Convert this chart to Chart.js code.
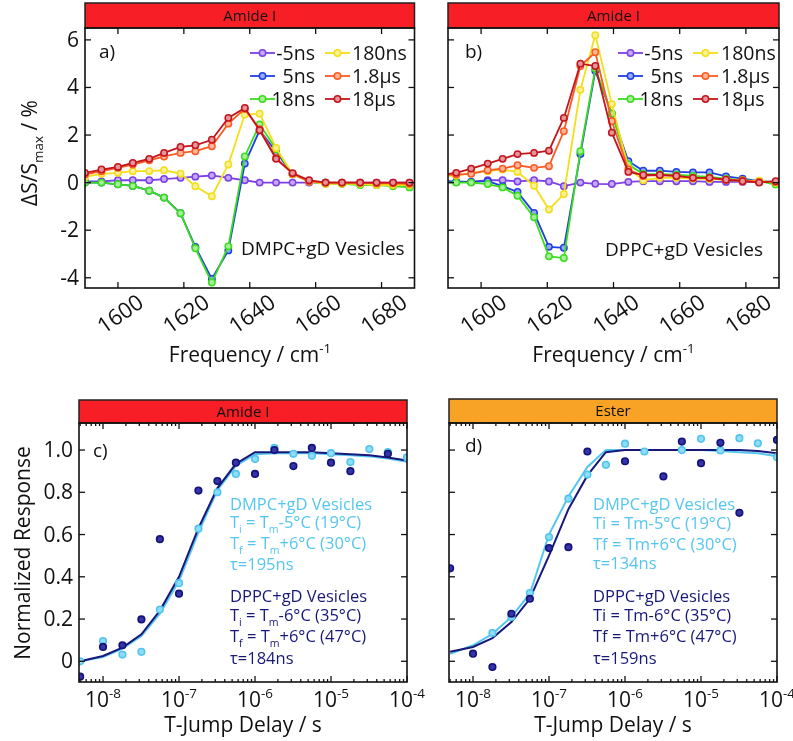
<!DOCTYPE html>
<html><head><meta charset="utf-8">
<script src="https://cdn.jsdelivr.net/npm/chart.js@4.4.0/dist/chart.umd.min.js"></script>
<style>
html,body{margin:0;padding:0;background:#fff;}
#wrap{position:relative;width:793px;height:741px;overflow:hidden;background:#fff;}
canvas{position:absolute;}
</style></head><body>
<div id="wrap">
<canvas id="ca" width="420" height="372" style="left:0px;top:0px"></canvas>
<canvas id="cb" width="373" height="372" style="left:420px;top:0px"></canvas>
<canvas id="cc" width="440" height="371" style="left:0px;top:370px"></canvas>
<canvas id="cd" width="373" height="371" style="left:420px;top:370px"></canvas>
</div>
<script>
// ---------------- DATA ----------------
const seriesLabels = ['-5ns', ' 5ns', '18ns', '180ns', '1.8µs', '18µs'];

// panel a (DMPC+gD vesicles), frequency in cm-1
const freqA = [1590,1595,1600,1604.5,1609.5,1614,1619,1623.5,1628.5,1633.5,1638.5,1643,1648,1653,1658,1663,1668,1673.5,1678.5,1683.5,1688.5];
const a_m5ns  = [0.05,0.05,0.1,0.1,0.1,0.15,0.2,0.25,0.3,0.2,0.1,0.0,0.0,0.0,0.0,0.0,0.0,0.0,0.0,0.0,0.0];
const a_5ns   = [0.0,0.0,-0.07,-0.14,-0.34,-0.63,-1.29,-2.7,-4.05,-2.85,0.8,2.2,1.3,0.35,0.05,0.0,-0.05,-0.05,-0.1,-0.1,-0.15];
const a_18ns  = [0.0,0.0,-0.07,-0.14,-0.34,-0.63,-1.29,-2.76,-4.2,-2.68,1.1,2.45,1.4,0.35,0.05,-0.05,-0.05,-0.1,-0.1,-0.15,-0.2];
const a_180ns = [0.24,0.37,0.41,0.48,0.48,0.52,0.38,-0.15,-0.57,0.76,2.86,2.9,1.46,0.35,0.05,-0.05,-0.05,-0.05,-0.1,-0.1,-0.1];
const a_1_8us = [0.34,0.48,0.62,0.76,0.94,1.1,1.25,1.32,1.53,2.48,3.1,2.25,1.04,0.37,0.05,0.0,0.0,0.0,-0.03,-0.03,-0.05];
const a_18us  = [0.41,0.55,0.66,0.83,1.0,1.25,1.5,1.57,1.8,2.72,3.14,2.2,1.0,0.4,0.1,0.0,0.0,0.0,0.0,0.0,0.0];

// panel b (DPPC+gD vesicles)
const freqB = [1588,1592.5,1597,1602,1606.5,1611,1616,1620.5,1625,1630,1634.5,1639.5,1644.5,1649,1654,1659,1664,1669,1674,1679,1684,1689];
const b_m5ns  = [0.05,0.05,0.03,0.1,0.1,0.05,0.1,0.05,-0.15,0.0,-0.05,-0.06,0.03,0.06,0.06,0.06,0.06,0.03,0.03,0.03,0.03,0.03];
const b_5ns   = [0.06,0.03,0.03,0.06,-0.15,-0.39,-1.27,-2.7,-2.74,1.2,4.7,2.9,0.9,0.5,0.5,0.45,0.43,0.43,0.26,0.17,0.06,0.03];
const b_18ns  = [0.0,0.0,0.0,-0.06,-0.2,-0.55,-1.46,-3.1,-3.17,1.32,4.8,2.9,0.76,0.36,0.36,0.33,0.28,0.24,0.17,0.1,0.06,-0.08];
const b_180ns = [0.27,0.3,0.41,0.48,0.55,0.45,-0.13,-1.13,-0.48,3.9,6.2,3.3,0.6,0.1,0.2,0.2,0.17,0.15,0.12,0.06,0.08,0.0];
const b_1_8us = [0.32,0.34,0.37,0.52,0.59,0.73,0.62,0.69,2.16,4.9,5.48,2.58,0.55,0.28,0.32,0.28,0.2,0.2,0.12,0.1,0.03,0.03];
const b_18us  = [0.34,0.41,0.59,0.8,1.0,1.2,1.25,1.34,2.72,5.0,4.9,2.1,0.45,0.32,0.32,0.28,0.2,0.2,0.12,0.06,0.0,0.06];

// panels c, d: T-jump delay (s)
const delays = [5e-9,1e-8,1.8e-8,3.2e-8,5.6e-8,1e-7,1.8e-7,3.2e-7,5.6e-7,1e-6,1.8e-6,3.2e-6,5.6e-6,1e-5,1.8e-5,3.2e-5,5.6e-5,1e-4];
// c) Amide I
const c_DMPC    = [0.0,0.096,0.032,0.045,0.245,0.37,0.628,0.80,0.887,0.958,1.01,0.982,0.973,0.985,0.943,1.005,0.99,0.965];
const c_DPPC    = [-0.073,0.068,0.076,0.198,0.578,0.32,0.808,0.853,0.94,0.887,1.0,0.924,1.01,0.94,0.9,null,0.982,null];
const c_fitDMPC = [0.0,0.02,0.06,0.12,0.225,0.38,0.61,0.81,0.925,0.98,0.985,0.985,0.985,0.98,0.975,0.97,0.96,0.945];
const c_fitDPPC = [0.0,0.025,0.065,0.128,0.24,0.40,0.63,0.82,0.935,0.99,0.99,0.99,0.99,0.985,0.98,0.975,0.965,0.95];
// d) Ester
const d_DMPC    = [null,null,0.134,0.21,0.323,0.588,0.77,0.884,0.93,1.03,0.993,null,1.0,1.053,0.998,1.056,1.032,0.966];
const d_DPPC    = [0.44,0.036,-0.027,0.225,0.296,0.536,0.54,0.993,null,0.947,null,0.875,1.04,0.938,1.034,0.703,null,1.048];
const d_fitDMPC = [0.035,0.076,0.13,0.21,0.32,0.6,0.78,0.92,1.0,1.0,1.0,1.0,1.0,1.0,0.995,0.99,0.985,0.97];
const d_fitDPPC = [0.045,0.068,0.11,0.186,0.296,0.5,0.72,0.88,0.99,1.0,1.0,1.0,1.0,1.0,1.0,1.0,0.995,0.985];

// ticks
const yTicksAB = [-4,-2,0,2,4,6];
const yTickLabelsAB = ['-4','-2','0','2','4','6'];
const xTicksAB = [1600,1620,1640,1660,1680];
const xTickLabelsAB = ['1600','1620','1640','1660','1680'];
const yTicksCD = [0,0.2,0.4,0.6,0.8,1.0];
const yTickLabelsCD = ['0','0.2','0.4','0.6','0.8','1.0'];
const xTicksCD = [1e-8,1e-7,1e-6,1e-5,1e-4];
const xTickExpCD = ['-8','-7','-6','-5','-4'];

// ---------------- STYLE ----------------
const FONT = '"Open Sans", "Noto Sans", "DejaVu Sans", sans-serif';
const COLS = ['#7d3fe6', '#1f3fe2', '#3cdc1e', '#f3de18', '#fb5a22', '#c4141c'];
const LBLUE = '#55c6ef', NAVY = '#18187a';
const HEAD_RED = '#f71e26', HEAD_ORANGE = '#f8a326';

function tint(hex, f){const n=parseInt(hex.slice(1),16);let r=n>>16,g=(n>>8)&255,b=n&255;
  r=Math.round(r+(255-r)*f);g=Math.round(g+(255-g)*f);b=Math.round(b+(255-b)*f);return `rgb(${r},${g},${b})`;}
const pts = (xs, ys) => xs.map((x,i)=>({x:x, y:ys[i]})).filter(p=>p.y!==null && p.y!==undefined);

function rich(ctx, x, y, parts, size, align, color){
  const fs = m => m ? size*0.64 : size;
  let w = 0;
  parts.forEach(p=>{ctx.font = fs(p[1])+'px '+FONT; w += ctx.measureText(p[0]).width;});
  let cx = align==='center' ? x-w/2 : (align==='right' ? x-w : x);
  ctx.textAlign='left'; ctx.textBaseline='alphabetic'; ctx.fillStyle=color;
  parts.forEach(p=>{ctx.font = fs(p[1])+'px '+FONT;
    const dy = p[1]===1 ? size*0.28 : (p[1]===2 ? -size*0.42 : 0);
    ctx.fillText(p[0], cx, y+dy); cx += ctx.measureText(p[0]).width;});
}
function seg(ctx,x1,y1,x2,y2){ctx.beginPath();ctx.moveTo(x1,y1);ctx.lineTo(x2,y2);ctx.stroke();}

function specDS(label, xs, ys, color, order){
  return {label, data:pts(xs,ys), borderColor:color, backgroundColor:color, borderWidth:1.8,
    pointRadius:3.2, pointBorderWidth:1.5, pointBackgroundColor:tint(color,0.55), pointBorderColor:color,
    tension:0, order};
}
function dotDS(label, ys, color, fill, order){
  return {label, data:pts(delays, ys), showLine:false, borderColor:color, backgroundColor:fill,
    pointRadius:3.3, pointBorderWidth:1.6, pointBackgroundColor:fill, pointBorderColor:color, order};
}
function fitDS(label, ys, color, order){
  return {label, data:pts(delays, ys), borderColor:color, borderWidth:2, pointRadius:0, tension:0, order};
}

function deco(cfg){
  return {id:'deco', afterDraw(chart){
    const ctx=chart.ctx, ca=chart.chartArea, sx=chart.scales.x, sy=chart.scales.y;
    ctx.save();
    // header bar
    ctx.fillStyle=cfg.headColor;
    ctx.fillRect(ca.left, cfg.headTop, ca.right-ca.left, ca.top-cfg.headTop);
    ctx.strokeStyle='#222'; ctx.lineWidth=1.5;
    ctx.strokeRect(ca.left, cfg.headTop, ca.right-ca.left, ca.top-cfg.headTop);
    ctx.fillStyle='#111'; ctx.font='15px '+FONT; ctx.textAlign='center'; ctx.textBaseline='middle';
    ctx.fillText(cfg.headText, (ca.left+ca.right)/2, (cfg.headTop+ca.top)/2+1);
    // frame
    ctx.strokeStyle='#111'; ctx.lineWidth=1.6;
    ctx.strokeRect(ca.left, ca.top, ca.right-ca.left, ca.bottom-ca.top);
    // y ticks
    ctx.lineWidth=1.3;
    cfg.yTicks.forEach(v=>{const py=sy.getPixelForValue(v); seg(ctx,ca.left,py,ca.left+6,py); seg(ctx,ca.right,py,ca.right-6,py);});
    // x ticks
    cfg.xTicks.forEach(v=>{const px=sx.getPixelForValue(v); seg(ctx,px,ca.bottom,px,ca.bottom-6); seg(ctx,px,ca.top,px,ca.top+6);});
    if (cfg.minor) {
      for (let e=-9; e<=-5; e++) for (let m=2; m<=9; m++){ const v=m*Math.pow(10,e);
        if (v<sx.min || v>sx.max) continue; const px=sx.getPixelForValue(v);
        seg(ctx,px,ca.bottom,px,ca.bottom-3); seg(ctx,px,ca.top,px,ca.top+3);}
    }
    // y tick labels
    if (cfg.yLabels) {
      ctx.fillStyle='#111'; ctx.font='21px '+FONT; ctx.textAlign='right'; ctx.textBaseline='middle';
      cfg.yTicks.forEach((v,i)=>ctx.fillText(cfg.yLabels[i], ca.left-6, sy.getPixelForValue(v)+1));
    }
    // x tick labels
    if (cfg.xRot) {
      ctx.fillStyle='#111'; ctx.font='22px '+FONT; ctx.textAlign='center'; ctx.textBaseline='middle';
      cfg.xTicks.forEach((v,i)=>{const px=sx.getPixelForValue(v); ctx.save(); ctx.translate(px+3, ca.bottom+27);
        ctx.rotate(-35*Math.PI/180); ctx.fillText(cfg.xLabels[i],0,0); ctx.restore();});
    }
    if (cfg.xExp) {
      cfg.xTicks.forEach((v,i)=>{const px=sx.getPixelForValue(v);
        rich(ctx, px, ca.bottom+25, [['10',0],[cfg.xExp[i],2]], 21, 'center', '#111');});
    }
    cfg.extra(ctx, chart);
    ctx.restore();
  }};
}

function makeChart(id, datasets, xScale, yScale, pad, yw, xh, plugin){
  return new Chart(document.getElementById(id), {
    type:'line', data:{datasets},
    options:{responsive:false, animation:false, events:[],
      layout:{padding:pad},
      plugins:{legend:{display:false}, tooltip:{enabled:false}, title:{display:false}},
      scales:{
        x:Object.assign({grid:{display:false}, border:{display:false}, ticks:{display:false},
          afterFit(s){s.height=xh; s.paddingLeft=0; s.paddingRight=0;}}, xScale),
        y:Object.assign({grid:{display:false}, border:{display:false}, ticks:{display:false},
          afterFit(s){s.width=yw; s.paddingTop=0; s.paddingBottom=0;}}, yScale)
      }},
    plugins:[plugin]
  });
}

function legend(ctx, c1, c2, rows){
  const items = [[0,0],[1,0],[2,0],[3,1],[4,1],[5,1]];
  items.forEach(([k,col])=>{
    const c = col===0 ? c1 : c2; const y = rows[k%3]; const color = COLS[k];
    ctx.strokeStyle=color; ctx.lineWidth=1.8; seg(ctx,c[0],y,c[1],y);
    ctx.beginPath(); ctx.arc((c[0]+c[1])/2, y, 3.2, 0, Math.PI*2); ctx.fillStyle=tint(color,0.55); ctx.fill();
    ctx.lineWidth=1.5; ctx.stroke();
    ctx.fillStyle='#111'; ctx.font='19.5px '+FONT; ctx.textBaseline='middle';
    ctx.textAlign = col===0 ? 'right' : 'left';
    ctx.fillText(seriesLabels[k].trim(), c[2], y+1);
  });
}

const specSets = (xs, arrs) => arrs.map((ys,k)=>specDS(seriesLabels[k], xs, ys, COLS[k], 6-k));
const xLin = {type:'linear', min:1590, max:1690};
const yAB = {type:'linear', min:-4.43, max:6.5};
const xLog = {type:'logarithmic', min:4.83e-9, max:1e-4};
const yCD = {type:'linear', min:-0.098, max:1.128};

// ---- a ----
makeChart('ca', specSets(freqA,[a_m5ns,a_5ns,a_18ns,a_180ns,a_1_8us,a_18us]), xLin, yAB,
  {top:28,right:4,left:0,bottom:0}, 85, 84,
  deco({headTop:3, headColor:HEAD_RED, headText:'Amide I', yTicks:yTicksAB, yLabels:yTickLabelsAB,
    xTicks:xTicksAB, xLabels:xTickLabelsAB, xRot:true,
    extra(ctx, chart){
      legend(ctx, [250,275,315], [325,350,352], [53,76,99]);
      ctx.fillStyle='#111'; ctx.font='19px '+FONT; ctx.textAlign='left'; ctx.textBaseline='middle';
      ctx.fillText('a)', 99, 53);
      ctx.font='19px '+FONT; ctx.fillText('DMPC+gD Vesicles', 241, 250);
      ctx.save(); ctx.translate(37, 153); ctx.rotate(-Math.PI/2);
      rich(ctx, 0, 0, [['ΔS/S',0],['max',1],[' / %',0]], 21, 'center', '#111'); ctx.restore();
      rich(ctx, 250, 362, [['Frequency / cm',0],['-1',2]], 21, 'center', '#111');
    }}));

// ---- b ----
makeChart('cb', specSets(freqB,[b_m5ns,b_5ns,b_18ns,b_180ns,b_1_8us,b_18us]), xLin, yAB,
  {top:28,right:14,left:0,bottom:0}, 28, 84,
  deco({headTop:3, headColor:HEAD_RED, headText:'Amide I', yTicks:yTicksAB,
    xTicks:xTicksAB, xLabels:xTickLabelsAB, xRot:true,
    extra(ctx, chart){
      legend(ctx, [198,223,263], [273,298,301], [53,76,99]);
      ctx.fillStyle='#111'; ctx.font='19px '+FONT; ctx.textAlign='left'; ctx.textBaseline='middle';
      ctx.fillText('b)', 45, 53);
      ctx.font='19px '+FONT; ctx.fillText('DPPC+gD Vesicles', 185, 251);
      rich(ctx, 193.5, 362, [['Frequency / cm',0],['-1',2]], 21, 'center', '#111');
    }}));

function annotC(ctx, x, lines, color){
  lines.forEach(l=>rich(ctx, x, l[0], l[1], 16.5, 'left', color));
}

// ---- c ----
makeChart('cc', [dotDS('DPPC', c_DPPC, '#12127a', '#3434a6', 1), dotDS('DMPC', c_DMPC, '#52c4ee', '#8edcf6', 2),
    fitDS('DPPC fit', c_fitDPPC, NAVY, 3), fitDS('DMPC fit', c_fitDMPC, LBLUE, 4)], xLog, yCD,
  {top:53,right:33,left:0,bottom:0}, 79, 59,
  deco({headTop:30, headColor:HEAD_RED, headText:'Amide I', yTicks:yTicksCD, yLabels:yTickLabelsCD,
    xTicks:xTicksCD, xExp:xTickExpCD, minor:true,
    extra(ctx, chart){
      ctx.fillStyle='#111'; ctx.font='19px '+FONT; ctx.textAlign='left'; ctx.textBaseline='middle';
      ctx.fillText('c)', 93, 82);
      annotC(ctx, 230, [[140,[['DMPC+gD Vesicles',0]]],
        [158,[['T',0],['i',1],[' = T',0],['m',1],['-5°C (19°C)',0]]],
        [179,[['T',0],['f',1],[' = T',0],['m',1],['+6°C (30°C)',0]]],
        [200,[['τ=195ns',0]]]], LBLUE);
      annotC(ctx, 230, [[232,[['DPPC+gD Vesicles',0]]],
        [251,[['T',0],['i',1],[' = T',0],['m',1],['-6°C (35°C)',0]]],
        [272,[['T',0],['f',1],[' = T',0],['m',1],['+6°C (47°C)',0]]],
        [294,[['τ=184ns',0]]]], NAVY);
      ctx.save(); ctx.translate(30, 183); ctx.rotate(-Math.PI/2);
      rich(ctx, 0, 0, [['Normalized Response',0]], 21, 'center', '#111'); ctx.restore();
      rich(ctx, 243, 362, [['T-Jump Delay / s',0]], 21, 'center', '#111');
    }}));

// ---- d ----
makeChart('cd', [dotDS('DPPC', d_DPPC, '#12127a', '#3434a6', 1), dotDS('DMPC', d_DMPC, '#52c4ee', '#8edcf6', 2),
    fitDS('DPPC fit', d_fitDPPC, NAVY, 3), fitDS('DMPC fit', d_fitDMPC, LBLUE, 4)], xLog, yCD,
  {top:53,right:16,left:0,bottom:0}, 29, 59,
  deco({headTop:29, headColor:HEAD_ORANGE, headText:'Ester', yTicks:yTicksCD,
    xTicks:xTicksCD, xExp:xTickExpCD, minor:true,
    extra(ctx, chart){
      ctx.fillStyle='#111'; ctx.font='19px '+FONT; ctx.textAlign='left'; ctx.textBaseline='middle';
      ctx.fillText('d)', 45, 77);
      annotC(ctx, 173, [[140,[['DMPC+gD Vesicles',0]]],
        [159,[['Ti = Tm-5°C (19°C)',0]]],
        [180,[['Tf = Tm+6°C (30°C)',0]]],
        [199,[['τ=134ns',0]]]], LBLUE);
      annotC(ctx, 173, [[232,[['DPPC+gD Vesicles',0]]],
        [251,[['Ti = Tm-6°C (35°C)',0]]],
        [272,[['Tf = Tm+6°C (47°C)',0]]],
        [294,[['τ=159ns',0]]]], NAVY);
      rich(ctx, 193, 362, [['T-Jump Delay / s',0]], 21, 'center', '#111');
    }}));
</script>
</body></html>
